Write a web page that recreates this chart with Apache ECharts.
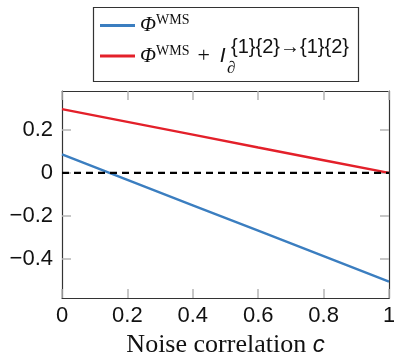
<!DOCTYPE html>
<html>
<head>
<meta charset="utf-8">
<script src="https://cdn.jsdelivr.net/npm/echarts@6/dist/echarts.min.js"></script>
<style>
  html, body { margin: 0; padding: 0; background: #fff; }
  #chart { width: 394px; height: 356px; }
</style>
</head>
<body>
<div id="chart"></div>
<script>
// noise correlation c
const cValues = [0, 0.2, 0.4, 0.6, 0.8, 1];
// Phi^WMS
const phiWms = [0.086, -0.032, -0.15, -0.268, -0.386, -0.504];
// Phi^WMS + I_d^{1}{2}->{1}{2}
const phiWmsPlusI = [0.296, 0.237, 0.178, 0.118, 0.059, 0.0];
// dashed reference at zero
const zeroLine = [0, 0, 0, 0, 0, 0];

const xTicks = [0, 0.2, 0.4, 0.6, 0.8, 1];
const yTicks = [-0.4, -0.2, 0, 0.2];

const BLUE = '#3b7ec0';
const RED = '#e3202a';
const FRAME = '#333';
const TICK = '#b5b5b5';

const chart = echarts.init(document.getElementById('chart'));

const pairs = (ys) => cValues.map((c, i) => [c, ys[i]]);

const fmtNum = (v) => String(v).replace('-', '\u2212');

const option = {
  animation: false,
  grid: { left: 62, right: 5, top: 91, bottom: 58, outerBoundsMode: 'none', containLabel: false },
  legend: {
    data: ['phi', 'phiI'],
    orient: 'vertical',
    left: 100,
    top: 11,
    padding: 0,
    itemGap: 1,
    itemWidth: 35,
    itemHeight: 3,
    icon: 'rect',
    formatter: (name) =>
      name === 'phi'
        ? '{big|\u03A6}{wms|WMS}'
        : '{big|\u03A6}{wms|WMS}{plus|+}{ii|I}',
    textStyle: {
      color: '#111',
      rich: {
        big: {
          fontFamily: 'Liberation Serif',
          fontStyle: 'italic',
          fontSize: 21,
          lineHeight: 24,
          padding: [4, 0, 4, 0],
          color: '#111'
        },
        wms: {
          fontFamily: 'Liberation Serif',
          fontSize: 14,
          lineHeight: 14,
          verticalAlign: 'top',
          color: '#111'
        },
        plus: {
          fontFamily: 'Liberation Serif',
          fontSize: 22,
          lineHeight: 24,
          padding: [4, 10, 4, 8],
          color: '#111'
        },
        ii: {
          fontFamily: 'Liberation Sans',
          fontStyle: 'italic',
          fontSize: 21,
          lineHeight: 24,
          padding: [4, 0, 4, 0],
          color: '#111'
        }
      }
    }
  },
  graphic: [
    {
      type: 'rect',
      z: 0,
      shape: { x: 93.5, y: 7.5, width: 265, height: 74 },
      style: { fill: '#fff', stroke: FRAME, lineWidth: 1.2 }
    },
    {
      type: 'text',
      z: 10,
      x: 231,
      y: 47,
      style: {
        text: '{1}{2}\u2192{1}{2}',
        fontFamily: 'Liberation Sans',
        fontSize: 20,
        fill: '#111',
        verticalAlign: 'middle'
      }
    },
    {
      type: 'text',
      z: 10,
      x: 227,
      y: 69,
      style: {
        text: '\u2202',
        fontFamily: 'Liberation Serif',
        fontStyle: 'italic',
        fontSize: 17,
        fill: '#111',
        verticalAlign: 'middle'
      }
    }
  ],
  xAxis: [
    {
      type: 'value',
      min: 0,
      max: 1,
      interval: 0.2,
      name: '{t|Noise correlation }{c|c}',
      nameLocation: 'middle',
      nameGap: 26,
      nameTextStyle: {
        rich: {
          t: { fontFamily: 'Liberation Serif', fontSize: 26, color: '#111' },
          c: { fontFamily: 'Liberation Sans', fontStyle: 'italic', fontSize: 24, color: '#111' }
        }
      },
      axisLine: { show: true, onZero: false, lineStyle: { color: FRAME, width: 1.2 } },
      axisTick: { show: true, inside: true, length: 9, lineStyle: { color: TICK, width: 1.5 } },
      axisLabel: {
        fontFamily: 'Liberation Sans',
        fontSize: 22,
        color: '#111',
        margin: 7,
        formatter: (v) => fmtNum(v)
      },
      splitLine: { show: false }
    },
    {
      type: 'value',
      position: 'top',
      min: 0,
      max: 1,
      interval: 0.2,
      axisLine: { show: true, onZero: false, lineStyle: { color: FRAME, width: 1.2 } },
      axisTick: { show: true, inside: true, length: 9, lineStyle: { color: TICK, width: 1.5 } },
      axisLabel: { show: false },
      splitLine: { show: false }
    }
  ],
  yAxis: [
    {
      type: 'value',
      min: -0.58,
      max: 0.38,
      axisLine: { show: true, onZero: false, lineStyle: { color: FRAME, width: 1.2 } },
      axisTick: {
        show: true,
        inside: true,
        length: 9,
        customValues: yTicks,
        lineStyle: { color: TICK, width: 1.5 }
      },
      axisLabel: {
        fontFamily: 'Liberation Sans',
        fontSize: 22,
        color: '#111',
        margin: 9,
        customValues: yTicks,
        formatter: (v) => fmtNum(v)
      },
      splitLine: { show: false }
    },
    {
      type: 'value',
      position: 'right',
      min: -0.58,
      max: 0.38,
      axisLine: { show: true, onZero: false, lineStyle: { color: FRAME, width: 1.2 } },
      axisTick: {
        show: true,
        inside: true,
        length: 9,
        customValues: yTicks,
        lineStyle: { color: TICK, width: 1.5 }
      },
      axisLabel: { show: false },
      splitLine: { show: false }
    }
  ],
  series: [
    {
      name: 'zero',
      type: 'line',
      data: pairs(zeroLine),
      symbol: 'none',
      z: 3,
      lineStyle: { color: '#000', width: 2.2, type: [7, 5] }
    },
    {
      name: 'phi',
      type: 'line',
      data: pairs(phiWms),
      symbol: 'none',
      z: 2,
      lineStyle: { color: BLUE, width: 2.4 },
      itemStyle: { color: BLUE }
    },
    {
      name: 'phiI',
      type: 'line',
      data: pairs(phiWmsPlusI),
      symbol: 'none',
      z: 2,
      lineStyle: { color: RED, width: 2.4 },
      itemStyle: { color: RED }
    }
  ]
};

chart.setOption(option);
</script>
</body>
</html>
